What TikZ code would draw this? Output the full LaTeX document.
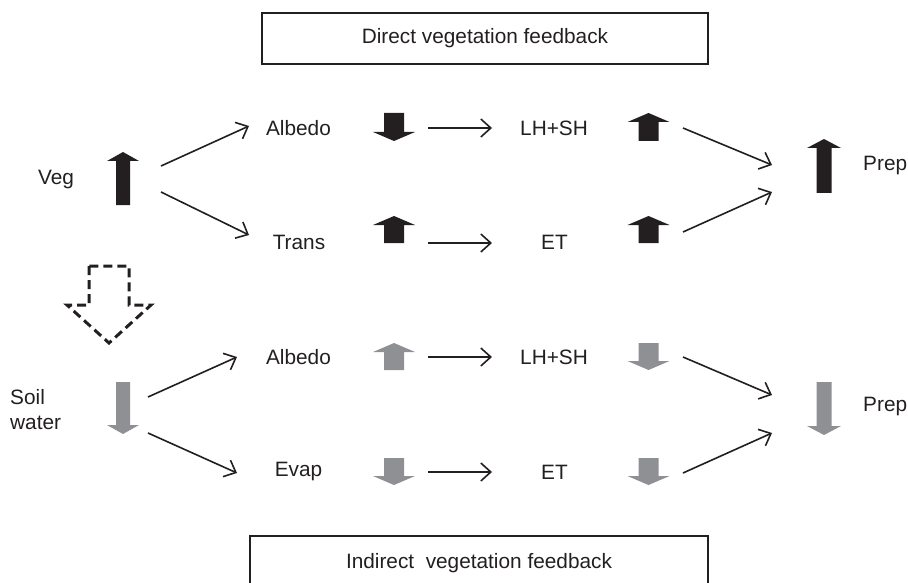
\documentclass[tikz,border=0pt]{standalone}
\usepackage{fontspec}
\setmainfont{Liberation Sans}
\usetikzlibrary{arrows.meta}
\definecolor{ink}{RGB}{35,31,32}
\definecolor{softgray}{RGB}{143,144,148}
\newcommand{\blockarr}[7]{% color, xc, shaft half, head half, tail y, head base y, tip y
  \fill[#1] (#2-#3,#5) -- (#2-#3,#6) -- (#2-#4,#6) -- (#2,#7) -- (#2+#4,#6) -- (#2+#3,#6) -- (#2+#3,#5) -- cycle;}
\begin{document}
\begin{tikzpicture}[x=1pt,y=-1pt,
  every node/.style={font=\fontsize{20.8}{25}\selectfont, text=ink, inner sep=0pt},
  lbl/.style={anchor=center},
  titlebox/.style={draw=ink, line width=1.7pt, anchor=center},
  conn/.style={draw=ink, line width=1.6pt, -{Straight Barb[length=10pt,width=18pt,line width=1.6pt]}},
  dasharr/.style={draw=ink, line width=3pt, dash pattern=on 9pt off 5pt, line join=miter}]
\useasboundingbox (0,0) rectangle (908,583);

% title boxes
\node[titlebox, minimum width=446pt, minimum height=51pt] (topbox) at (485,38.5) {Direct vegetation feedback};
\node[titlebox, minimum width=458pt, minimum height=54pt] (botbox) at (479,563) {Indirect\ \ vegetation feedback};

% labels upper
\node[lbl] (veg) at (56,180) {Veg};
\node[lbl] (albA) at (298.5,128) {Albedo};
\node[lbl] (trans) at (299,242) {Trans};
\node[lbl] (lhA) at (554,128) {LH+SH};
\node[lbl] (etA) at (554.5,242) {ET};
\node[anchor=west] (prepA) at (863,166) {Prep};

% labels lower
\node[anchor=west, align=left] (soil) at (10,409.5) {Soil\\water};
\node[lbl] (albB) at (298.5,357) {Albedo};
\node[lbl] (evap) at (298.5,472) {Evap};
\node[lbl] (lhB) at (554,357) {LH+SH};
\node[lbl] (etB) at (554.5,472) {ET};
\node[anchor=west] (prepB) at (863,407) {Prep};

% block arrows upper (black)
\blockarr{ink}{123}{7}{16}{205}{161}{152}
\blockarr{ink}{394}{10}{21}{113}{132}{141}
\blockarr{ink}{394}{10}{21}{243}{225}{216}
\blockarr{ink}{648.5}{10}{21}{141}{122}{113}
\blockarr{ink}{648.5}{10}{21}{243}{225}{216}
\blockarr{ink}{824}{7.5}{17}{193}{148}{139}

% block arrows lower (gray)
\blockarr{softgray}{123}{7}{16}{382}{425}{434}
\blockarr{softgray}{394}{10}{21}{370}{352}{343}
\blockarr{softgray}{648.5}{10}{21}{343}{361}{370}
\blockarr{softgray}{394}{10}{21}{458}{476}{485}
\blockarr{softgray}{648.5}{10}{21}{458}{476}{485}
\blockarr{softgray}{824}{7.5}{17}{382}{426}{435}

% dashed hollow arrow
\draw[dasharr] (89,266) -- (89,305) -- (67,305) -- (109,343) -- (151,305) -- (129,305) -- (129,266) -- cycle;

% connector end points
\coordinate (vegO1) at (161,166);  \coordinate (albAI) at (249,126);
\coordinate (vegO2) at (161,192);  \coordinate (transI) at (249,235);
\coordinate (albAO) at (428,128);  \coordinate (lhAI) at (492,128);
\coordinate (transO) at (428,243); \coordinate (etAI) at (492,243);
\coordinate (lhAO) at (683,128);   \coordinate (prepAI1) at (772,165);
\coordinate (etAO) at (683,232);   \coordinate (prepAI2) at (772,192);
\coordinate (soilO1) at (148,397); \coordinate (albBI) at (237,357);
\coordinate (soilO2) at (148,433); \coordinate (evapI) at (237,473);
\coordinate (albBO) at (428,357);  \coordinate (lhBI) at (492,357);
\coordinate (evapO) at (428,472);  \coordinate (etBI) at (492,472);
\coordinate (lhBO) at (683,357);   \coordinate (prepBI1) at (772,395);
\coordinate (etBO) at (683,473);   \coordinate (prepBI2) at (772,433);

\draw[conn] (vegO1) -- (albAI);
\draw[conn] (vegO2) -- (transI);
\draw[conn] (albAO) -- (lhAI);
\draw[conn] (transO) -- (etAI);
\draw[conn] (lhAO) -- (prepAI1);
\draw[conn] (etAO) -- (prepAI2);
\draw[conn] (soilO1) -- (albBI);
\draw[conn] (soilO2) -- (evapI);
\draw[conn] (albBO) -- (lhBI);
\draw[conn] (evapO) -- (etBI);
\draw[conn] (lhBO) -- (prepBI1);
\draw[conn] (etBO) -- (prepBI2);
\end{tikzpicture}
\end{document}
